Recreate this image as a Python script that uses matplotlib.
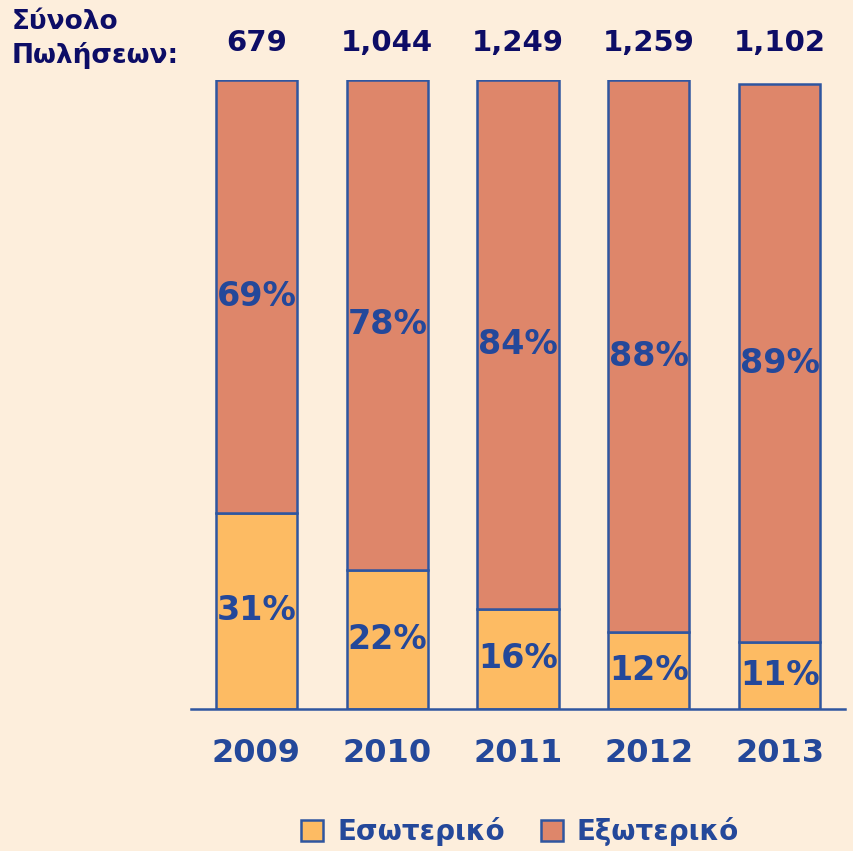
import numpy as np
import matplotlib.pyplot as plt

years = ["2009", "2010", "2011", "2012", "2013"]
totals = ["679", "1,044", "1,249", "1,259", "1,102"]
domestic = [31.2, 22.1, 15.9, 12.2, 10.7]   # Εσωτερικό (%)
foreign = [68.8, 77.9, 84.1, 87.8, 88.6]    # Εξωτερικό (%)

bg = '#FDEEDC'
c_dom = '#FDBB63'
c_for = '#DE866A'
edge = '#2F56A0'
txt = '#24489A'
navy = '#0D0D66'

plt.rcParams['font.family'] = ['DejaVu Sans']

fig = plt.figure(figsize=(8.54, 8.51), dpi=100, facecolor=bg)
ax = fig.add_axes([191/854, 1 - 709/851, 654/854, 629/851])
ax.set_facecolor(bg)

x = np.arange(len(years))
b1 = ax.bar(x, domestic, width=0.62, color=c_dom, edgecolor=edge, linewidth=1.8,
            label='Εσωτερικό')
b2 = ax.bar(x, foreign, width=0.62, bottom=domestic, color=c_for, edgecolor=edge,
            linewidth=1.8, label='Εξωτερικό')

for i in range(len(years)):
    ax.text(x[i], domestic[i] / 2, f"{round(domestic[i])}%", ha='center', va='center',
            fontsize=24, fontweight='bold', color=txt)
    ax.text(x[i], domestic[i] + foreign[i] / 2, f"{round(foreign[i])}%", ha='center',
            va='center', fontsize=24, fontweight='bold', color=txt)
    ax.text(x[i], 100 + 5.9, totals[i], ha='center', va='center', fontsize=21,
            fontweight='bold', color=navy)

ax.set_xlim(-0.5, 4.5)
ax.set_ylim(0, 100)
ax.set_xticks(x)
ax.set_xticklabels(years, fontsize=23, fontweight='bold', color=txt)
ax.tick_params(axis='x', length=0, pad=21)
ax.set_yticks([])
for s in ['top', 'right', 'left']:
    ax.spines[s].set_visible(False)
ax.spines['bottom'].set_color(edge)
ax.spines['bottom'].set_linewidth(1.8)

fig.text(12/854, 1 - 39/851, "Σύνολο\nΠωλήσεων:", ha='left', va='center', fontsize=19,
         fontweight='bold', color=navy, linespacing=1.3)

fig.legend(handles=[b1, b2], loc='center', bbox_to_anchor=(520/854, 1 - 832/851),
           ncol=2, frameon=False, prop={'size': 20, 'weight': 'bold'},
           labelcolor=txt, handlelength=0.8, handleheight=0.8, handletextpad=0.5,
           columnspacing=1.3)

plt.savefig('out.png', dpi=100, facecolor=bg)
